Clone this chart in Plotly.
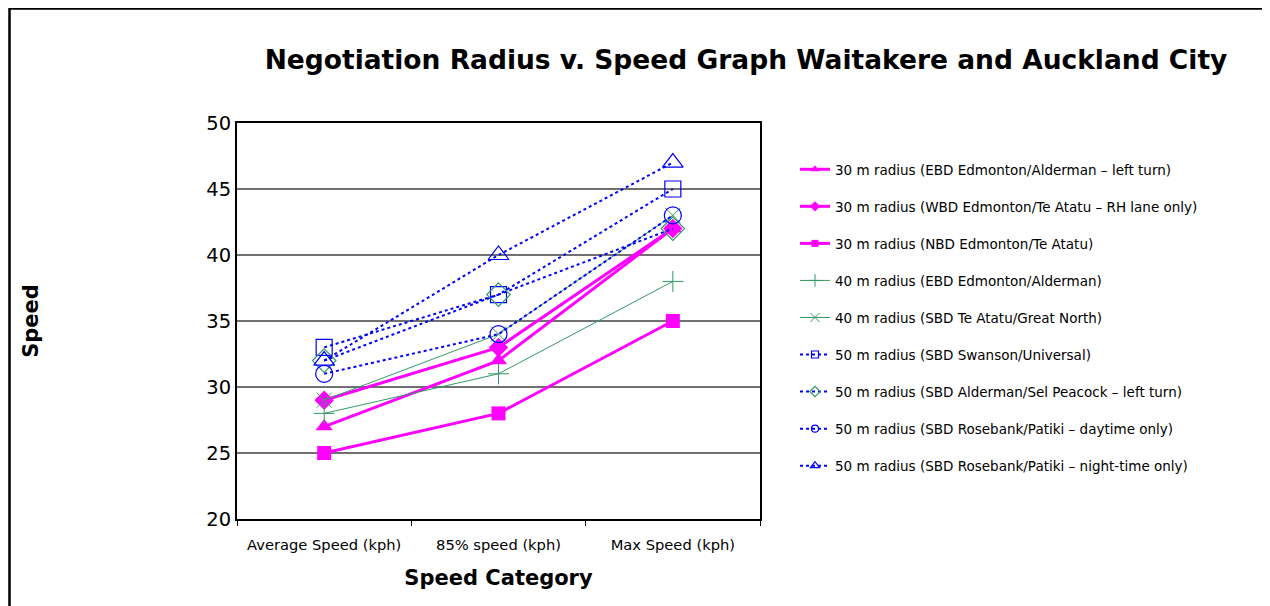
import plotly.graph_objects as go

categories = ["Average Speed (kph)", "85% speed (kph)", "Max Speed (kph)"]

names = [
    "30 m radius (EBD Edmonton/Alderman – left turn)",
    "30 m radius (WBD Edmonton/Te Atatu – RH lane only)",
    "30 m radius (NBD Edmonton/Te Atatu)",
    "40 m radius (EBD Edmonton/Alderman)",
    "40 m radius (SBD Te Atatu/Great North)",
    "50 m radius (SBD Swanson/Universal)",
    "50 m radius (SBD Alderman/Sel Peacock – left turn)",
    "50 m radius (SBD Rosebank/Patiki – daytime only)",
    "50 m radius (SBD Rosebank/Patiki – night-time only)",
]

ebd_30 = [27, 32, 42]
wbd_30 = [29, 33, 42]
nbd_30 = [25, 28, 35]
ebd_40 = [28, 31, 38]
sbd_40 = [29, 34, 43]
swanson_50 = [33, 37, 45]
alderman_50 = [32, 37, 42]
rosebank_day_50 = [31, 34, 43]
rosebank_night_50 = [32, 40, 47]

values = [ebd_30, wbd_30, nbd_30, ebd_40, sbd_40, swanson_50, alderman_50,
          rosebank_day_50, rosebank_night_50]

PINK = "#FF00FF"
GREEN = "#339966"
BLUE = "#0000FF"

styles = [
    dict(line=dict(color=PINK, width=3), marker=dict(symbol="triangle-up", size=15, color=PINK), lsize=8),
    dict(line=dict(color=PINK, width=3), marker=dict(symbol="diamond", size=15, color=PINK), lsize=8),
    dict(line=dict(color=PINK, width=3), marker=dict(symbol="square", size=14, color=PINK), lsize=7),
    dict(line=dict(color=GREEN, width=1), marker=dict(symbol="cross-thin", size=15, color=GREEN, line=dict(color=GREEN, width=1)), lsize=9),
    dict(line=dict(color=GREEN, width=1), marker=dict(symbol="x-thin", size=15, color=GREEN, line=dict(color=GREEN, width=1)), lsize=9),
    dict(line=dict(color=BLUE, width=2, dash="dot"), marker=dict(symbol="square-open", size=16, color=BLUE, line=dict(width=1.2)), lsize=7),
    dict(line=dict(color=BLUE, width=2, dash="dot"), marker=dict(symbol="diamond-open", size=18, color=GREEN, line=dict(width=1.2)), lsize=8),
    dict(line=dict(color=BLUE, width=2, dash="dot"), marker=dict(symbol="circle-open", size=17, color=BLUE, line=dict(width=1.2)), lsize=7),
    dict(line=dict(color=BLUE, width=2, dash="dot"), marker=dict(symbol="triangle-up-open", size=18, color=BLUE, line=dict(width=1.2)), lsize=8),
]

fig = go.Figure()
for i, (name, vals, st) in enumerate(zip(names, values, styles)):
    fig.add_trace(go.Scatter(
        x=categories, y=vals, mode="lines+markers", name=name,
        line=st["line"], marker=st["marker"], showlegend=False,
    ))
# legend entries with small markers, like the original
for i, (name, st) in enumerate(zip(names, styles)):
    m = dict(st["marker"])
    m["size"] = st["lsize"]
    fig.add_trace(go.Scatter(
        x=[categories[0]], y=[None], mode="lines+markers", name=name,
        line=st["line"], marker=m, showlegend=True, legendgroup=f"g{i}",
    ))

# page body has an 8px margin, so figure coords = screen coords - 8
OFF = 8
W, H = 1270 - OFF, 606 - OFF
L, R, T, B = 237 - OFF, 760 - OFF, 123 - OFF, 519 - OFF
pw, ph = R - L, B - T

def px_x(x):
    return (x - OFF - L) / pw

def px_y(y):
    return (B - (y - OFF)) / ph

fig.update_layout(
    width=W, height=H,
    margin=dict(l=L, r=W - R, t=T, b=H - B),
    paper_bgcolor="white", plot_bgcolor="white",
    font=dict(family="DejaVu Sans", color="black"),
    title=dict(
        text="<b>Negotiation Radius v. Speed Graph Waitakere and Auckland City</b>",
        font=dict(size=26.5, family="DejaVu Sans", color="black"),
        x=(746 - OFF) / W, xanchor="center", y=1 - (60 - OFF) / H, yanchor="middle",
    ),
    xaxis=dict(
        type="category", range=[-0.5, 2.5], tickson="boundaries",
        ticks="outside", ticklen=5, tickcolor="black", ticklabelstandoff=11,
        showline=True, linecolor="black", linewidth=2, mirror=True,
        showgrid=False, tickfont=dict(size=14.7),
        title=dict(text="<b>Speed Category</b>", font=dict(size=21), standoff=19),
    ),
    yaxis=dict(
        range=[20, 50], dtick=5, tick0=20,
        showline=True, linecolor="black", linewidth=2, mirror=True,
        showgrid=True, gridcolor="#707070", gridwidth=1.5, zeroline=False,
        ticks="", tickfont=dict(size=19.5),
        title=dict(text="<b>Speed</b>", font=dict(size=21), standoff=162),
    ),
    legend=dict(
        x=px_x(795), y=px_y(154), xanchor="left", yanchor="top",
        font=dict(size=13.5, family="DejaVu Sans"), tracegroupgap=16.5,
        bgcolor="rgba(0,0,0,0)", itemwidth=30,
    ),
    shapes=[dict(
        type="rect", xref="paper", yref="paper",
        x0=px_x(9.5), x1=px_x(1263.5), y0=px_y(660), y1=px_y(8.5),
        line=dict(color="black", width=2.5), layer="below",
    )],
)

fig.write_html("out.html")
